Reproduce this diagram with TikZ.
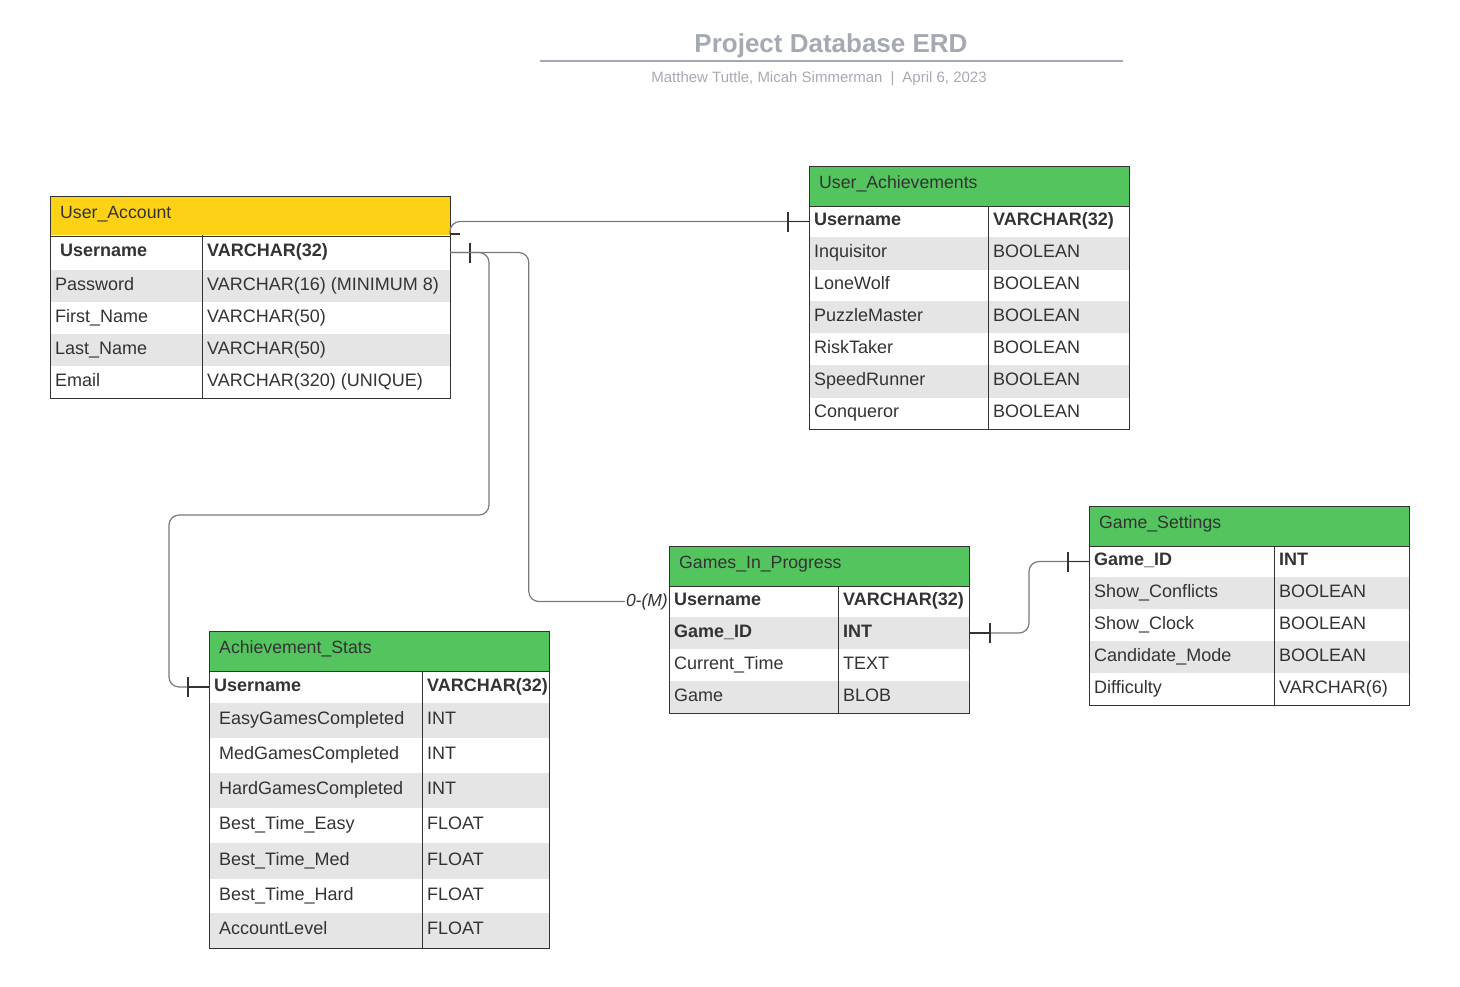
\documentclass[tikz,border=0pt]{standalone}
\usepackage{fontspec}
\setmainfont{Liberation Sans}
\usetikzlibrary{calc}
\definecolor{hdrgreen}{HTML}{54C45E}
\definecolor{hdryellow}{HTML}{FCD116}
\definecolor{rowgray}{HTML}{E5E5E5}
\definecolor{bordc}{HTML}{333333}
\definecolor{txt}{HTML}{333333}
\definecolor{ttl}{HTML}{A4A9B3}
\definecolor{subttl}{HTML}{A6ABB3}
\definecolor{connc}{HTML}{7A7A7A}
\tikzset{
  cellbox/.style={draw=none, inner sep=0pt, outer sep=0pt, anchor=north west},
  ftext/.style={inner sep=0pt, anchor=west, text=txt, text height=13pt, text depth=4.5pt, font=\fontsize{18}{21}\selectfont},
  htext/.style={inner sep=0pt, anchor=west, text=txt, text height=12.6pt, text depth=7pt, font=\fontsize{17.7}{21}\selectfont},
  tblborder/.style={draw=bordc, line width=1pt},
  connline/.style={draw=connc, line width=1.2pt, rounded corners=10pt},
  darkline/.style={draw=bordc, line width=1.2pt},
}
% name, x, ytop, width, height, fill, field, type, divider offset
\newcommand{\erow}[9]{%
  \node[cellbox, fill=#6, minimum width=#4pt, minimum height=#5pt] (#1) at (#2,#3) {};
  \node[ftext] (#1-f) at ($(#1.west)+(5,0)$) {#7};
  \node[ftext] (#1-t) at ($(#1.west)+(#9+5,0)$) {#8};
  \draw[bordc, line width=1pt] ($(#1.north west)+(#9,0)$) -- ($(#1.south west)+(#9,0)$);
}
% name, x, ytop, width, fill, title
\newcommand{\ehead}[6]{%
  \node[cellbox, fill=#5, minimum width=#4pt, minimum height=40pt] (#1) at (#2,#3) {};
  \node[htext] (#1-title) at ($(#1.west)+(10,0)$) {#6};
}
\begin{document}
\begin{tikzpicture}[x=1pt,y=-1pt]
\useasboundingbox[fill=white] (0,0) rectangle (1460,986);

% title
\node[font=\bfseries\fontsize{26}{30}\selectfont, text=ttl, inner sep=0pt] (title) at (831,46) {Project Database ERD};
\coordinate (tl1) at (540,61);
\coordinate (tl2) at (1123,61);
\draw[ttl, line width=2pt] (tl1) -- (tl2);
\node[font=\fontsize{15}{17}\selectfont, text=subttl, inner sep=0pt] (sub) at (819,79) {Matthew Tuttle, Micah Simmerman\hspace{8pt}|\hspace{8pt}April 6, 2023};

% User_Account
\ehead{ua}{50}{196}{400}{hdryellow}{User\_Account}
\erow{ua-r1}{50}{235}{400}{35}{white}{\hspace{5pt}\textbf{Username}}{\textbf{VARCHAR(32)}}{152}
\erow{ua-r2}{50}{270}{400}{32}{rowgray}{Password}{VARCHAR(16) (MINIMUM 8)}{152}
\erow{ua-r3}{50}{302}{400}{32}{white}{First\_Name}{VARCHAR(50)}{152}
\erow{ua-r4}{50}{334}{400}{32}{rowgray}{Last\_Name}{VARCHAR(50)}{152}
\erow{ua-r5}{50}{366}{400}{32}{white}{Email}{VARCHAR(320) (UNIQUE)}{152}
\draw[tblborder] (ua.north west) rectangle (ua-r5.south east);
\draw[tblborder] (ua.south west) -- (ua.south east);

% User_Achievements
\ehead{uach}{809}{166}{320}{hdrgreen}{User\_Achievements}
\erow{uach-r1}{809}{206}{320}{31}{white}{\textbf{Username}}{\textbf{VARCHAR(32)}}{179}
\erow{uach-r2}{809}{237}{320}{33}{rowgray}{Inquisitor}{BOOLEAN}{179}
\erow{uach-r3}{809}{270}{320}{31}{white}{LoneWolf}{BOOLEAN}{179}
\erow{uach-r4}{809}{301}{320}{32}{rowgray}{PuzzleMaster}{BOOLEAN}{179}
\erow{uach-r5}{809}{333}{320}{32}{white}{RiskTaker}{BOOLEAN}{179}
\erow{uach-r6}{809}{365}{320}{33}{rowgray}{SpeedRunner}{BOOLEAN}{179}
\erow{uach-r7}{809}{398}{320}{31}{white}{Conqueror}{BOOLEAN}{179}
\draw[tblborder] (uach.north west) rectangle (uach-r7.south east);
\draw[tblborder] (uach.south west) -- (uach.south east);

% Games_In_Progress
\ehead{gip}{669}{546}{300}{hdrgreen}{Games\_In\_Progress}
\erow{gip-r1}{669}{586}{300}{31}{white}{\textbf{Username}}{\textbf{VARCHAR(32)}}{169}
\erow{gip-r2}{669}{617}{300}{32}{rowgray}{\textbf{Game\_ID}}{\textbf{INT}}{169}
\erow{gip-r3}{669}{649}{300}{32}{white}{Current\_Time}{TEXT}{169}
\erow{gip-r4}{669}{681}{300}{32}{rowgray}{Game}{BLOB}{169}
\draw[tblborder] (gip.north west) rectangle (gip-r4.south east);
\draw[tblborder] (gip.south west) -- (gip.south east);

% Game_Settings
\ehead{gs}{1089}{506}{320}{hdrgreen}{Game\_Settings}
\erow{gs-r1}{1089}{546}{320}{31}{white}{\textbf{Game\_ID}}{\textbf{INT}}{185}
\erow{gs-r2}{1089}{577}{320}{32}{rowgray}{Show\_Conflicts}{BOOLEAN}{185}
\erow{gs-r3}{1089}{609}{320}{32}{white}{Show\_Clock}{BOOLEAN}{185}
\erow{gs-r4}{1089}{641}{320}{32}{rowgray}{Candidate\_Mode}{BOOLEAN}{185}
\erow{gs-r5}{1089}{673}{320}{32}{white}{Difficulty}{VARCHAR(6)}{185}
\draw[tblborder] (gs.north west) rectangle (gs-r5.south east);
\draw[tblborder] (gs.south west) -- (gs.south east);

% Achievement_Stats
\ehead{ast}{209}{631}{340}{hdrgreen}{Achievement\_Stats}
\erow{ast-r1}{209}{671}{340}{32}{white}{\textbf{Username}}{\textbf{VARCHAR(32)}}{213}
\erow{ast-r2}{209}{703}{340}{35}{rowgray}{\hspace{5pt}EasyGamesCompleted}{INT}{213}
\erow{ast-r3}{209}{738}{340}{35}{white}{\hspace{5pt}MedGamesCompleted}{INT}{213}
\erow{ast-r4}{209}{773}{340}{35}{rowgray}{\hspace{5pt}HardGamesCompleted}{INT}{213}
\erow{ast-r5}{209}{808}{340}{35}{white}{\hspace{5pt}Best\_Time\_Easy}{FLOAT}{213}
\erow{ast-r6}{209}{843}{340}{36}{rowgray}{\hspace{5pt}Best\_Time\_Med}{FLOAT}{213}
\erow{ast-r7}{209}{879}{340}{34}{white}{\hspace{5pt}Best\_Time\_Hard}{FLOAT}{213}
\erow{ast-r8}{209}{913}{340}{35}{rowgray}{\hspace{5pt}AccountLevel}{FLOAT}{213}
\draw[tblborder] (ast.north west) rectangle (ast-r8.south east);
\draw[tblborder] (ast.south west) -- (ast.south east);

% ---- connectors ----
% User_Account -> User_Achievements
\coordinate (c1s) at ($(ua.south east)+(0,-2)$);
\draw[connline] (c1s) -- (c1s |- uach-r1.west) -- (uach-r1.west);
\draw[darkline] (c1s) -- ++(10,0);
\draw[darkline] ($(uach-r1.west)+(-21,0)$) -- (uach-r1.west);
\draw[darkline] ($(uach-r1.west)+(-21,-10)$) -- ++(0,20);

% User_Account -> Achievement_Stats
\coordinate (j1) at (489,515);
\coordinate (j2) at (169,515);
\draw[connline] (ua-r1.east) -| (j1) -- (j2) |- (ast-r1.west);
\draw[darkline] (ua-r1.east) -- ++(30,0);
\draw[darkline] ($(ua-r1.east)+(20,-10)$) -- ++(0,20);
\draw[darkline] ($(ast-r1.west)+(-21,0)$) -- (ast-r1.west);
\draw[darkline] ($(ast-r1.west)+(-21,-10)$) -- ++(0,20);

% User_Account -> Games_In_Progress
\node[font=\itshape\fontsize{17.5}{20}\selectfont, text=txt, anchor=east, inner sep=1pt] (lbl) at (gip-r1.west) {0-(M)};
\draw[connline] (ua-r1.east) -| ([xshift=-96pt]lbl.west) -- (lbl.west);

% Games_In_Progress -> Game_Settings
\draw[connline] (gip-r2.east) -- ++(60,0) |- (gs-r1.west);
\draw[darkline] (gip-r2.east) -- ++(21,0);
\draw[darkline] ($(gip-r2.east)+(21,-10)$) -- ++(0,20);
\draw[darkline] ($(gs-r1.west)+(-21,0)$) -- (gs-r1.west);
\draw[darkline] ($(gs-r1.west)+(-21,-10)$) -- ++(0,20);
\end{tikzpicture}
\end{document}
